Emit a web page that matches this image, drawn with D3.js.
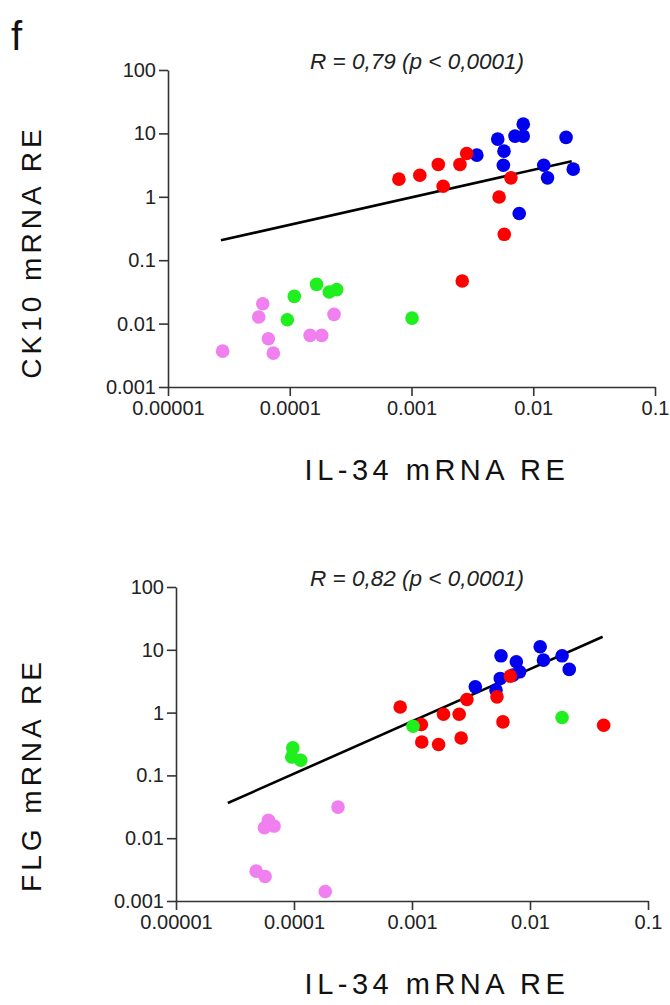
<!DOCTYPE html>
<html>
<head>
<meta charset="utf-8">
<script src="https://cdn.jsdelivr.net/npm/d3@7"></script>
<style>
  body { margin: 0; background: #fff; }
  svg text { font-family: Arial, "Liberation Sans", sans-serif; }
</style>
</head>
<body>
<svg id="fig" width="670" height="1005"></svg>
<script>
var xTicks = [0.00001, 0.0001, 0.001, 0.01, 0.1];
var xTickLabels = ["0.00001", "0.0001", "0.001", "0.01", "0.1"];
var yTicks = [0.001, 0.01, 0.1, 1, 10, 100];
var yTickLabels = ["0.001", "0.01", "0.1", "1", "10", "100"];

// CK10 vs IL-34 (top panel), [IL-34, CK10]
var ck10Blue = [[3.44e-3, 4.54], [5.11e-3, 8.13], [5.75e-3, 5.25], [5.68e-3, 3.15], [7.08e-3, 9.06],
  [8.28e-3, 14.0], [8.28e-3, 9.06], [7.67e-3, 0.545], [1.22e-2, 3.15], [1.31e-2, 1.99],
  [1.86e-2, 8.65], [2.13e-2, 2.73]];
var ck10Red = [[7.88e-4, 1.90], [1.17e-3, 2.19], [1.66e-3, 3.24], [1.82e-3, 1.47], [2.50e-3, 3.24],
  [2.84e-3, 4.83], [6.56e-3, 1.99], [5.24e-3, 0.995], [5.78e-3, 0.256], [2.61e-3, 0.0469]];
var ck10Green = [[1.09e-4, 0.0269], [9.55e-5, 0.0115], [1.66e-4, 0.0416], [2.11e-4, 0.0315],
  [2.43e-4, 0.0343], [1.01e-3, 0.0122]];
var ck10Pink = [[2.81e-5, 0.00368], [6.0e-5, 0.0206], [5.56e-5, 0.0127], [6.67e-5, 0.00577],
  [7.33e-5, 0.00342], [1.47e-4, 0.00651], [1.83e-4, 0.00651], [2.31e-4, 0.0140]];
var ck10Fit = [[2.72e-5, 0.206], [2.07e-2, 3.65]];

// FLG vs IL-34 (bottom panel), [IL-34, FLG]
var flgBlue = [[3.44e-3, 2.57], [5.15e-3, 2.28], [5.68e-3, 8.02], [5.60e-3, 3.50], [7.66e-3, 6.44],
  [8.17e-3, 4.46], [7.18e-3, 3.95], [1.22e-2, 11.2], [1.30e-2, 6.85], [1.87e-2, 8.02],
  [2.15e-2, 4.87]];
var flgRed = [[7.94e-4, 1.23], [1.20e-3, 0.646], [1.21e-3, 0.341], [1.68e-3, 0.310], [1.85e-3, 0.942],
  [2.51e-3, 0.942], [2.61e-3, 0.395], [2.92e-3, 1.62], [5.25e-3, 1.78], [5.90e-3, 0.711],
  [6.81e-3, 3.81], [4.21e-2, 0.630]];
var flgGreen = [[9.77e-5, 0.274], [9.57e-5, 0.196], [1.14e-4, 0.174], [1.02e-3, 0.607], [1.87e-2, 0.835]];
var flgPink = [[4.78e-5, 0.00299], [5.69e-5, 0.00246], [1.84e-4, 0.00142], [2.36e-4, 0.0313],
  [6.07e-5, 0.0192], [5.61e-5, 0.0147], [6.78e-5, 0.0156], [6.26e-5, 0.0170]];
var flgFit = [[2.75e-5, 0.0363], [4.13e-2, 16.1]];

var colors = { blue: "#0000ee", red: "#ff0000", green: "#1fee1f", pink: "#f07ff0" };

var svg = d3.select("#fig");

svg.append("text")
  .attr("x", 11).attr("y", 50)
  .style("font-size", "40px")
  .attr("fill", "#111")
  .text("f");

function drawPanel(p) {
  var x = d3.scaleLog().domain([0.00001, 0.1]).range([p.left, p.right]);
  var y = d3.scaleLog().domain([0.001, 100]).range([p.bottom, p.top]);
  var g = svg.append("g");

  g.append("g")
    .attr("transform", "translate(" + p.left + ",0)")
    .call(d3.axisLeft(y).tickValues(yTicks)
      .tickFormat(function(d, i) { return yTickLabels[i]; })
      .tickSize(9).tickSizeOuter(0).tickPadding(3));

  g.append("g")
    .attr("transform", "translate(0," + p.bottom + ")")
    .call(d3.axisBottom(x).tickValues(xTicks)
      .tickFormat(function(d, i) { return xTickLabels[i]; })
      .tickSize(9).tickSizeOuter(0).tickPadding(5));

  g.selectAll(".domain, .tick line").attr("stroke", "#333").attr("stroke-width", 1.6);
  g.selectAll(".tick text").attr("fill", "#222").style("font-size", "20px").attr("font-family", null);

  var line = d3.line()
    .x(function(d) { return x(d[0]); })
    .y(function(d) { return y(d[1]); });

  g.append("path")
    .datum(p.fit)
    .attr("d", line)
    .attr("fill", "none")
    .attr("stroke", "#000")
    .attr("stroke-width", 2.6);

  p.groups.forEach(function(grp) {
    g.append("g").selectAll("circle")
      .data(grp.values)
      .enter().append("circle")
      .attr("cx", function(d) { return x(d[0]); })
      .attr("cy", function(d) { return y(d[1]); })
      .attr("r", 6.8)
      .attr("fill", grp.color);
  });

  g.append("text")
    .attr("x", 417).attr("y", p.top - 1)
    .attr("text-anchor", "middle")
    .style("font-size", "22.5px")
    .style("font-style", "italic")
    .attr("fill", "#222")
    .text(p.title);

  g.append("text")
    .attr("x", 437).attr("y", p.bottom + 93)
    .attr("text-anchor", "middle")
    .style("font-size", "29px")
    .style("letter-spacing", "4.5px")
    .attr("fill", "#111")
    .text("IL-34 mRNA RE");

  g.append("text")
    .attr("transform", "translate(41," + p.yLabelY + ") rotate(-90)")
    .attr("text-anchor", "middle")
    .style("font-size", "28px")
    .style("letter-spacing", "4px")
    .attr("fill", "#111")
    .text(p.yLabel);
}

drawPanel({
  left: 168, right: 655, top: 70, bottom: 387,
  title: "R = 0,79 (p < 0,0001)",
  yLabel: "CK10 mRNA RE", yLabelY: 252,
  fit: ck10Fit,
  groups: [
    { values: ck10Blue, color: colors.blue },
    { values: ck10Red, color: colors.red },
    { values: ck10Green, color: colors.green },
    { values: ck10Pink, color: colors.pink }
  ]
});

drawPanel({
  left: 176, right: 648, top: 587, bottom: 901,
  title: "R = 0,82 (p < 0,0001)",
  yLabel: "FLG mRNA RE", yLabelY: 775,
  fit: flgFit,
  groups: [
    { values: flgBlue, color: colors.blue },
    { values: flgRed, color: colors.red },
    { values: flgGreen, color: colors.green },
    { values: flgPink, color: colors.pink }
  ]
});
</script>
</body>
</html>
